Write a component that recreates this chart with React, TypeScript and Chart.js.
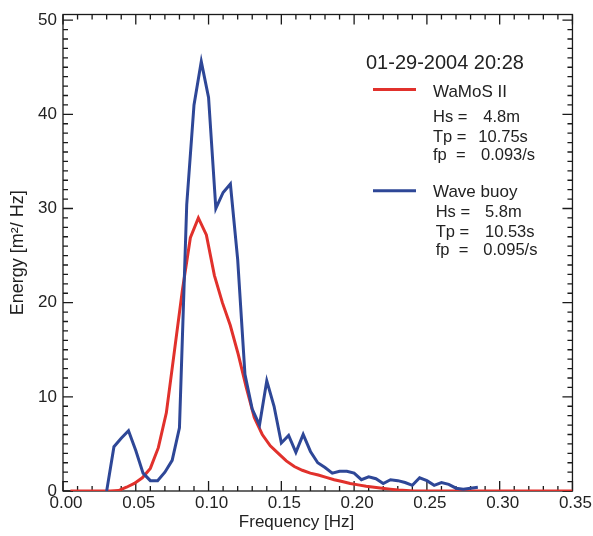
import React, { useEffect, useRef } from 'react';
import { Chart, registerables } from 'chart.js';

Chart.register(...registerables);

// ---------- data ----------
const WAMOS_FREQ = [
  0.0051, 0.0106, 0.0161, 0.0216, 0.0271, 0.0326, 0.0381, 0.0436, 0.049, 0.0545,
  0.06, 0.0655, 0.071, 0.0765, 0.082, 0.0875, 0.093, 0.0985, 0.104, 0.1095,
  0.1149, 0.1204, 0.1259, 0.1314, 0.1369, 0.1424, 0.1479, 0.1534, 0.1589, 0.1644,
  0.1699, 0.1754, 0.1808, 0.1863, 0.1918, 0.1973, 0.2028, 0.2083, 0.2138, 0.2193,
  0.2248, 0.2303, 0.2358, 0.2413, 0.2467, 0.2522, 0.2577, 0.2632, 0.2687, 0.2742,
  0.2797, 0.2852, 0.2907, 0.2962, 0.3017, 0.3072, 0.3126, 0.3181, 0.3236, 0.3291,
  0.3346, 0.3401, 0.3456, 0.35,
];
const WAMOS_ENERGY = [
  0, 0, 0, 0, 0, 0, 0.05, 0.4, 0.8, 1.4,
  2.4, 4.6, 8.3, 14.8, 21.3, 26.9, 29.0, 27.2, 22.9, 20.0,
  17.6, 14.5, 11.0, 7.8, 6.0, 4.8, 4.0, 3.2, 2.6, 2.2,
  1.9, 1.7, 1.45, 1.2, 1.0, 0.8, 0.65, 0.5, 0.4, 0.3,
  0.2, 0.1, 0.05, 0, 0, 0, 0, 0, 0, 0,
  0, 0, 0, 0, 0, 0, 0, 0, 0, 0,
  0, 0, 0, 0,
];
const BUOY_FREQ = [
  0.03, 0.035, 0.04, 0.045, 0.05, 0.055, 0.06, 0.065, 0.07, 0.075,
  0.08, 0.085, 0.09, 0.095, 0.1, 0.105, 0.11, 0.115, 0.12, 0.125,
  0.13, 0.135, 0.14, 0.145, 0.15, 0.155, 0.16, 0.165, 0.17, 0.175,
  0.18, 0.185, 0.19, 0.195, 0.2, 0.205, 0.21, 0.215, 0.22, 0.225,
  0.23, 0.235, 0.24, 0.245, 0.25, 0.255, 0.26, 0.265, 0.27, 0.275,
  0.28, 0.285,
];
const BUOY_ENERGY = [
  0, 4.7, 5.6, 6.4, 4.3, 1.9, 1.1, 1.1, 2.0, 3.25,
  6.7, 30.4, 41.0, 45.6, 41.8, 30.0, 31.7, 32.6, 24.6, 12.4,
  8.7, 7.0, 11.7, 9.0, 5.1, 5.9, 4.1, 6.0, 4.2, 3.0,
  2.5, 1.9, 2.1, 2.1, 1.9, 1.2, 1.5, 1.3, 0.8, 1.2,
  1.1, 0.9, 0.6, 1.4, 1.1, 0.6, 0.9, 0.7, 0.3, 0.2,
  0.3, 0.4,
];
const X_TICKS = [0, 0.05, 0.1, 0.15, 0.2, 0.25, 0.3, 0.35];
const Y_TICKS = [0, 10, 20, 30, 40, 50];
const X_MINOR_STEP = 0.01;
const Y_MINOR_STEP = 1;

const DATE_LABEL = '01-29-2004 20:28';
const SERIES_NAMES = ['WaMoS II', 'Wave buoy'];
const WAMOS_STATS: [string, string][] = [['Hs =', '4.8m'], ['Tp =', '10.75s'], ['fp  =', '0.093/s']];
const BUOY_STATS: [string, string][] = [['Hs =', '5.8m'], ['Tp =', '10.53s'], ['fp  =', '0.095/s']];
const X_TITLE = 'Frequency [Hz]';
const Y_TITLE = 'Energy [m\u00B2/ Hz]';

// ---------- styles ----------
const RED = '#E1312C';
const BLUE = '#2E4797';
const INK = '#222222';
const FONT = '"Liberation Sans", Arial, Helvetica, sans-serif';

const framePlugin = {
  id: 'frameTicks',
  beforeDatasetsDraw(chart: any) {
    const { ctx, chartArea, scales } = chart;
    const { left, right, top, bottom } = chartArea;
    const xs = scales.x;
    const ys = scales.y;
    ctx.save();
    ctx.strokeStyle = '#1a1a1a';
    ctx.lineWidth = 1.3;
    ctx.strokeRect(left, top, right - left, bottom - top);
    ctx.beginPath();
    const nx = Math.round((xs.max - xs.min) / X_MINOR_STEP);
    for (let i = 0; i <= nx; i++) {
      const v = xs.min + i * X_MINOR_STEP;
      const px = xs.getPixelForValue(v);
      const major = i % 5 === 0;
      const len = major ? 10 : 5;
      ctx.moveTo(px, bottom);
      ctx.lineTo(px, bottom - len);
      ctx.moveTo(px, top);
      ctx.lineTo(px, top + len);
    }
    const ny = Math.floor((ys.max - ys.min) / Y_MINOR_STEP + 1e-6);
    for (let i = 0; i <= ny; i++) {
      const v = ys.min + i * Y_MINOR_STEP;
      const py = ys.getPixelForValue(v);
      const major = i % 10 === 0;
      const len = major ? 10 : 5;
      ctx.moveTo(left, py);
      ctx.lineTo(left + len, py);
      ctx.moveTo(right, py);
      ctx.lineTo(right - len, py);
    }
    ctx.stroke();
    ctx.restore();
  },
  afterDraw(chart: any) {
    const { ctx, chartArea } = chart;
    ctx.save();
    ctx.fillStyle = INK;
    // axis titles
    ctx.font = `17px ${FONT}`;
    ctx.textAlign = 'center';
    ctx.textBaseline = 'middle';
    ctx.fillText(X_TITLE, chart.width / 2, 522);
    ctx.save();
    ctx.translate(18, (chartArea.top + chartArea.bottom) / 2);
    ctx.rotate(-Math.PI / 2);
    ctx.font = `18px ${FONT}`;
    ctx.fillText(Y_TITLE, 0, 0);
    ctx.restore();

    // annotation / legend
    ctx.textAlign = 'left';
    ctx.textBaseline = 'alphabetic';
    ctx.font = `20px ${FONT}`;
    ctx.fillText(DATE_LABEL, 366, 69);

    ctx.lineWidth = 3;
    ctx.strokeStyle = RED;
    ctx.beginPath();
    ctx.moveTo(373, 89.5);
    ctx.lineTo(416, 89.5);
    ctx.stroke();
    ctx.font = `17px ${FONT}`;
    ctx.fillText(SERIES_NAMES[0], 433, 96.5);
    ctx.font = `16.5px ${FONT}`;
    const wy = [122.3, 141.7, 159.5];
    const wvx = [483.3, 478.3, 481];
    WAMOS_STATS.forEach(([k, v], i) => {
      ctx.fillText(k, 433, wy[i]);
      ctx.fillText(v, wvx[i], wy[i]);
    });

    ctx.strokeStyle = BLUE;
    ctx.beginPath();
    ctx.moveTo(373, 190.7);
    ctx.lineTo(416, 190.7);
    ctx.stroke();
    ctx.font = `17px ${FONT}`;
    ctx.fillText(SERIES_NAMES[1], 433, 196.7);
    ctx.font = `16.5px ${FONT}`;
    const by = [217.3, 236.7, 255];
    const bvx = [485, 485, 483.3];
    BUOY_STATS.forEach(([k, v], i) => {
      ctx.fillText(k, 435.7, by[i]);
      ctx.fillText(v, bvx[i], by[i]);
    });
    ctx.restore();
  },
};

export default function App() {
  const canvasRef = useRef<HTMLCanvasElement | null>(null);

  useEffect(() => {
    document.body.style.margin = '0';
    const canvas = canvasRef.current;
    if (!canvas) return;
    const chart = new Chart(canvas, {
      type: 'line',
      data: {
        datasets: [
          {
            label: SERIES_NAMES[1],
            data: BUOY_FREQ.map((f, i) => ({ x: f, y: BUOY_ENERGY[i] })),
            borderColor: BLUE,
            backgroundColor: BLUE,
            borderWidth: 3,
            pointRadius: 0,
            tension: 0,
            fill: false,
            order: 0,
          },
          {
            label: SERIES_NAMES[0],
            data: WAMOS_FREQ.map((f, i) => ({ x: f, y: WAMOS_ENERGY[i] })),
            borderColor: RED,
            backgroundColor: RED,
            borderWidth: 3,
            pointRadius: 0,
            tension: 0,
            fill: false,
            order: 1,
          },
        ],
      },
      options: {
        responsive: false,
        animation: false,
        devicePixelRatio: 1,
        layout: { padding: { left: 0, right: 20, top: 9, bottom: 0 } },
        plugins: {
          legend: { display: false },
          tooltip: { enabled: false },
          title: { display: false },
        },
        scales: {
          x: {
            type: 'linear',
            min: 0,
            max: 0.35,
            grid: { display: false, drawTicks: false },
            border: { display: false },
            afterBuildTicks: (s: any) => {
              s.ticks = X_TICKS.map((v) => ({ value: v }));
            },
            afterFit: (s: any) => {
              s.height = 45;
            },
            ticks: {
              autoSkip: false,
              maxRotation: 0,
              padding: 4,
              labelOffset: 3,
              color: INK,
              font: { family: FONT, size: 17, lineHeight: 1 },
              callback: (v: any) => Number(v).toFixed(2),
            },
          },
          y: {
            type: 'linear',
            min: 0,
            max: 50.6,
            grid: { display: false, drawTicks: false },
            border: { display: false },
            afterBuildTicks: (s: any) => {
              s.ticks = Y_TICKS.map((v) => ({ value: v }));
            },
            afterFit: (s: any) => {
              s.width = 63;
            },
            ticks: {
              padding: 6,
              color: INK,
              font: { family: FONT, size: 17, lineHeight: 1 },
              callback: (v: any) => String(v),
            },
          },
        },
      },
      plugins: [framePlugin],
    } as any);
    return () => chart.destroy();
  }, []);

  return (
    <div style={{ width: 593, height: 536, background: '#fff' }}>
      <canvas ref={canvasRef} width={593} height={536} style={{ display: 'block', width: 593, height: 536 }} />
    </div>
  );
}
